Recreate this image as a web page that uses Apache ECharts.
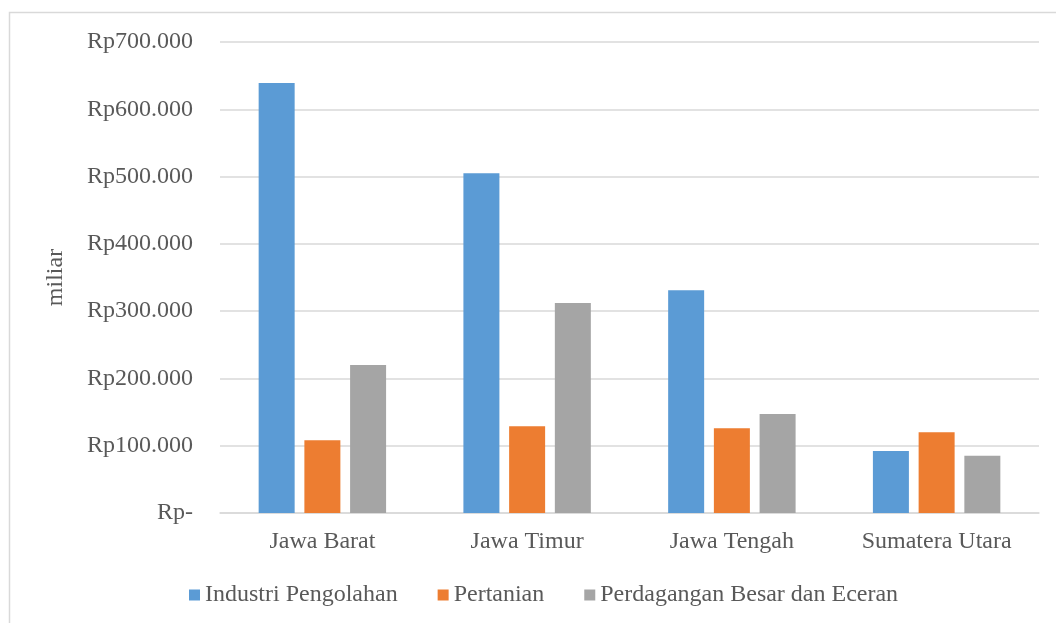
<!DOCTYPE html>
<html><head><meta charset="utf-8">
<script src="https://cdn.jsdelivr.net/npm/echarts@6/dist/echarts.min.js"></script>
<style>html,body{margin:0;padding:0;background:#fff}#c{width:1056px;height:623px}</style>
</head><body><div id="c"></div>
<script>
const categories = ['Jawa Barat', 'Jawa Timur', 'Jawa Tengah', 'Sumatera Utara'];
const seriesNames = ['Industri Pengolahan', 'Pertanian', 'Perdagangan Besar dan Eceran'];
const industri = [639000, 505000, 331000, 92000];
const pertanian = [108000, 129000, 126000, 120000];
const perdagangan = [220000, 312000, 147000, 85000];
const colors = ['#5B9BD5', '#ED7D31', '#A5A5A5'];
const yTicks = [0, 100000, 200000, 300000, 400000, 500000, 600000, 700000];

const font = '"Liberation Serif", "Times New Roman", serif';
const fmt = v => v === 0 ? 'Rp-' : 'Rp' + (v / 1000).toFixed(0) + '.000';

const chart = echarts.init(document.getElementById('c'));
chart.setOption({
  animation: false,
  color: colors,
  graphic: [{
    type: 'rect', shape: { x: 9.5, y: 12.5, width: 1200, height: 800 },
    style: { fill: 'none', stroke: '#D9D9D9', lineWidth: 1.5 }, silent: true
  }],
  grid: { left: 220, right: 17, top: 42, bottom: 110 },
  legend: {
    left: 189, top: 583, padding: 0, itemWidth: 11, itemHeight: 11, itemGap: 40,
    icon: 'rect',
    textStyle: { fontFamily: font, fontSize: 24, color: '#595959' },
    data: seriesNames
  },
  xAxis: {
    type: 'category', data: categories,
    axisLine: { lineStyle: { color: '#D9D9D9', width: 1.5 } },
    axisTick: { show: false },
    axisLabel: { fontFamily: font, fontSize: 24, color: '#595959', margin: 17 }
  },
  yAxis: {
    type: 'value', min: 0, max: 700000, interval: 100000,
    name: 'miliar', nameLocation: 'middle', nameGap: 152, nameRotate: 90,
    nameTextStyle: { fontFamily: font, fontSize: 24, color: '#595959' },
    axisLine: { show: false }, axisTick: { show: false },
    splitLine: { lineStyle: { color: '#D9D9D9', width: 1.5 } },
    axisLabel: { fontFamily: font, fontSize: 24, color: '#595959', margin: 27,
      formatter: v => yTicks.includes(v) ? fmt(v) : '' }
  },
  series: [
    { name: seriesNames[0], type: 'bar', data: industri, barWidth: 36, barGap: '27%' },
    { name: seriesNames[1], type: 'bar', data: pertanian, barWidth: 36, barGap: '27%' },
    { name: seriesNames[2], type: 'bar', data: perdagangan, barWidth: 36, barGap: '27%' }
  ]
});
</script></body></html>
